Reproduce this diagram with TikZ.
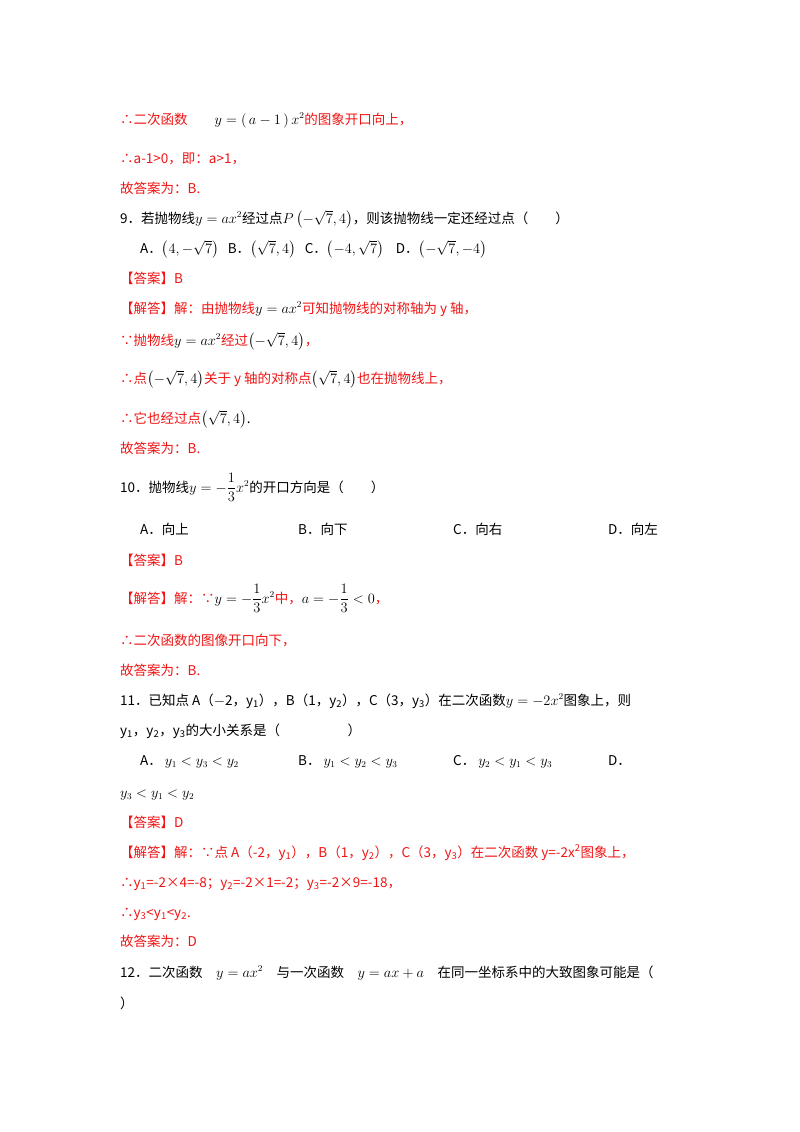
\documentclass[tikz,border=0pt]{standalone}
\usepackage{amsmath}
\usepackage{fontspec}
\setmainfont{Noto Sans CJK SC}
\definecolor{rd}{RGB}{240,20,20}
\newcommand{\R}[1]{\textcolor{rd}{#1}}
\begin{document}
\begin{tikzpicture}[x=1pt,y=1pt,
  ln/.style={anchor=base west,inner sep=0pt,font=\fontsize{13.5}{16}\selectfont}]
\useasboundingbox[fill=white] (0,0) rectangle (800,-1132);
\node[ln] (l1) at (120,-124) {\R{∴二次函数}\qquad $y=\left(\,a-1\,\right)x^2$\R{的图象开口向上，}};
\node[ln] (l2) at (120,-163) {\R{∴a-1>0，即：a>1，}};
\node[ln] (l3) at (120,-193) {\R{故答案为：B.}};
\node[ln] (l4) at (120,-223) {9．若抛物线$y=ax^2$经过点$P\left(-\sqrt7,4\right)$，则该抛物线一定还经过点（\qquad）};
\node[ln] (l5) at (140,-253) {A．$\left(4,-\sqrt7\right)$\ \ \ B．$\left(\sqrt7,4\right)$\ \ \ C．$\left(-4,\sqrt7\right)$\ \ \ \ D．$\left(-\sqrt7,-4\right)$};
\node[ln] (l6) at (120,-283) {\R{【答案】B}};
\node[ln] (l7) at (120,-313) {\R{【解答】解：由抛物线}$y=ax^2$\R{可知抛物线的对称轴为 y 轴，}};
\node[ln] (l8) at (120,-345) {\R{∵抛物线}$y=ax^2$\R{经过}$\left(-\sqrt7,4\right)$\R{，}};
\node[ln] (l9) at (120,-383) {\R{∴点}$\left(-\sqrt7,4\right)$\R{关于 y 轴的对称点}$\left(\sqrt7,4\right)$\R{也在抛物线上，}};
\node[ln] (l10) at (120,-423) {\R{∴它也经过点}$\left(\sqrt7,4\right)$.};
\node[ln] (l11) at (120,-453) {\R{故答案为：B.}};
\node[ln] (l12) at (120,-492) {10．抛物线$y=-\dfrac13x^2$的开口方向是（\qquad）};
\node[ln] (a1) at (140,-534) {A．向上};
\node[ln] (a2) at (298,-534) {B．向下};
\node[ln] (a3) at (453,-534) {C．向右};
\node[ln] (a4) at (608,-534) {D．向左};
\node[ln] (l13) at (120,-565) {\R{【答案】B}};
\node[ln] (l14) at (120,-603) {\R{【解答】解：∵}$y=-\dfrac13x^2$\R{中，}$a=-\dfrac13<0$\R{，}};
\node[ln] (l15) at (120,-645) {\R{∴二次函数的图像开口向下，}};
\node[ln] (l16) at (120,-675) {\R{故答案为：B.}};
\node[ln] (l17) at (120,-705) {11．已知点 A（$-$2，y\textsubscript{1}），B（1，y\textsubscript{2}），C（3，y\textsubscript{3}）在二次函数$y=-2x^2$图象上，则};
\node[ln] (l18) at (120,-735) {y\textsubscript{1}，y\textsubscript{2}，y\textsubscript{3}的大小关系是（\qquad\qquad\quad）};
\node[ln] (b1) at (140,-765) {A．\ $y_1<y_3<y_2$};
\node[ln] (b2) at (298,-765) {B．\ $y_1<y_2<y_3$};
\node[ln] (b3) at (453,-765) {C．\ $y_2<y_1<y_3$};
\node[ln] (b4) at (608,-765) {D．};
\node[ln] (l19) at (120,-797) {$y_3<y_1<y_2$};
\node[ln] (l20) at (120,-827) {\R{【答案】D}};
\node[ln] (l21) at (120,-857) {\R{【解答】解：∵点 A（-2，y\textsubscript{1}），B（1，y\textsubscript{2}），C（3，y\textsubscript{3}）在二次函数 y=-2x\textsuperscript{2}图象上，}};
\node[ln] (l22) at (120,-887) {\R{∴y\textsubscript{1}=-2×4=-8；y\textsubscript{2}=-2×1=-2；y\textsubscript{3}=-2×9=-18，}};
\node[ln] (l23) at (120,-917) {\R{∴y\textsubscript{3}<y\textsubscript{1}<y\textsubscript{2}.}};
\node[ln] (l24) at (120,-946) {\R{故答案为：D}};
\node[ln] (l25) at (120,-977) {12．二次函数\quad$y=ax^2$\quad 与一次函数\quad$y=ax+a$\quad 在同一坐标系中的大致图象可能是（};
\node[ln] (l26) at (120,-1008) {）};
\end{tikzpicture}
\end{document}
